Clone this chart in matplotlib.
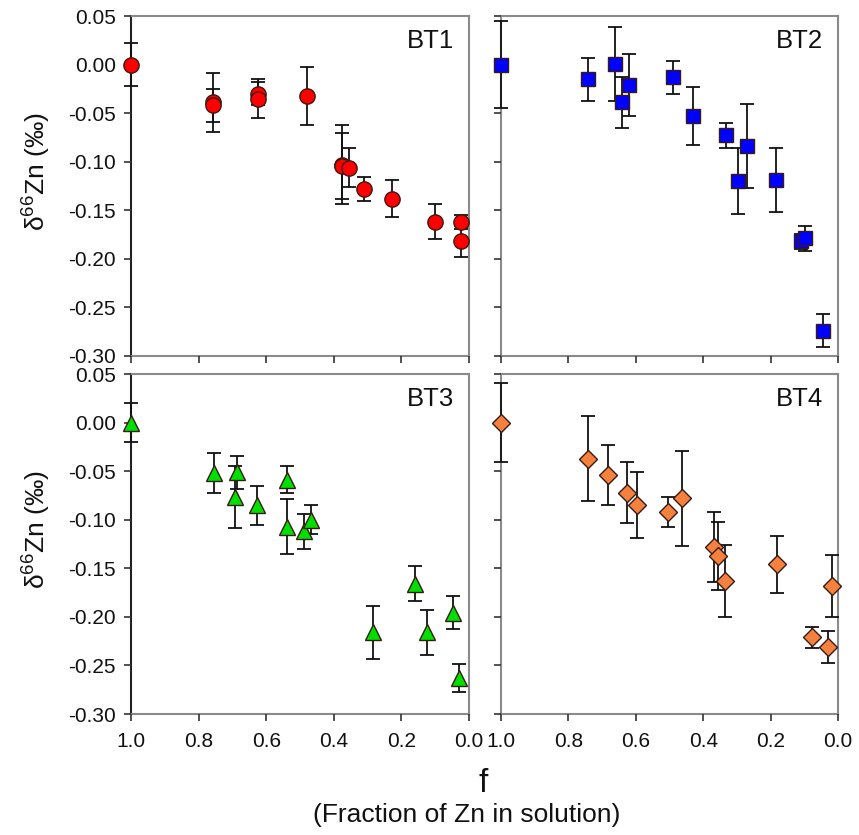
import matplotlib
matplotlib.use('Agg')
import matplotlib.pyplot as plt

plt.rcParams['font.family'] = ['Liberation Sans', 'DejaVu Sans']
plt.rcParams['mathtext.fontset'] = 'custom'
plt.rcParams['mathtext.rm'] = 'Liberation Sans'
plt.rcParams['mathtext.it'] = 'Liberation Sans:italic'

# ---- data -------------------------------------------------------------
bt1_f = [1.0, 0.756, 0.756, 0.623, 0.623, 0.478, 0.377, 0.375, 0.355, 0.311, 0.229, 0.101, 0.024, 0.024]
bt1_d = [0.000, -0.039, -0.042, -0.030, -0.035, -0.032, -0.103, -0.104, -0.106, -0.128, -0.138, -0.162, -0.162, -0.182]
bt1_e = [0.022, 0.030, 0.017, 0.012, 0.020, 0.030, 0.041, 0.034, 0.020, 0.012, 0.019, 0.018, 0.007, 0.016]

bt2_f = [1.0, 0.743, 0.662, 0.642, 0.619, 0.490, 0.431, 0.333, 0.297, 0.270, 0.184, 0.111, 0.098, 0.045]
bt2_d = [0.000, -0.015, 0.001, -0.039, -0.021, -0.013, -0.053, -0.073, -0.120, -0.084, -0.119, -0.182, -0.179, -0.274]
bt2_e = [0.045, 0.022, 0.038, 0.026, 0.032, 0.017, 0.030, 0.013, 0.034, 0.043, 0.033, 0.008, 0.013, 0.017]

bt3_f = [1.0, 0.754, 0.685, 0.692, 0.626, 0.539, 0.539, 0.488, 0.467, 0.283, 0.159, 0.125, 0.046, 0.030]
bt3_d = [0.000, -0.052, -0.051, -0.077, -0.085, -0.059, -0.107, -0.112, -0.100, -0.216, -0.166, -0.216, -0.196, -0.263]
bt3_e = [0.020, 0.021, 0.017, 0.032, 0.020, 0.014, 0.028, 0.018, 0.015, 0.027, 0.018, 0.023, 0.017, 0.014]

bt4_f = [1.0, 0.743, 0.682, 0.626, 0.595, 0.504, 0.462, 0.367, 0.355, 0.335, 0.180, 0.078, 0.030, 0.019]
bt4_d = [0.000, -0.037, -0.054, -0.072, -0.085, -0.092, -0.078, -0.128, -0.137, -0.163, -0.146, -0.221, -0.231, -0.168]
bt4_e = [0.041, 0.044, 0.031, 0.031, 0.034, 0.015, 0.049, 0.036, 0.035, 0.037, 0.029, 0.011, 0.016, 0.032]

panel_names = ['BT1', 'BT2', 'BT3', 'BT4']
x_ticks = [1.0, 0.8, 0.6, 0.4, 0.2, 0.0]
x_ticklabels = ['1.0', '0.8', '0.6', '0.4', '0.2', '0.0']
y_ticks = [0.05, 0.00, -0.05, -0.10, -0.15, -0.20, -0.25, -0.30]
y_ticklabels = ['0.05', '0.00', '-0.05', '-0.10', '-0.15', '-0.20', '-0.25', '-0.30']
ylabel_text = r'$\mathregular{\delta^{66}}$Zn (‰)'
xlabel_main = 'f'
xlabel_sub = '(Fraction of Zn in solution)'

series = [
    (bt1_f, bt1_d, bt1_e, 'o', '#ff0000', 11),
    (bt2_f, bt2_d, bt2_e, 's', '#0000ff', 9.5),
    (bt3_f, bt3_d, bt3_e, '^', '#00e000', 11),
    (bt4_f, bt4_d, bt4_e, 'D', '#f4823e', 9),
]

# ---- figure -----------------------------------------------------------
W, H = 859, 835
fig = plt.figure(figsize=(W / 100, H / 100), dpi=100)

def rect(x0, y0, x1, y1):
    return [x0 / W, 1 - y1 / H, (x1 - x0) / W, (y1 - y0) / H]

rects = [rect(131, 16, 469, 356), rect(501, 16, 838, 356),
         rect(131, 374, 469, 714), rect(501, 374, 838, 714)]

frame_col = '#8a8a8a'
for i, (r, (fx, dy, er, mk, col, ms)) in enumerate(zip(rects, series)):
    ax = fig.add_axes(r)
    ax.errorbar(fx, dy, yerr=er, fmt='none', ecolor='#111111', elinewidth=1.3,
                capsize=5, capthick=1.3, zorder=4, clip_on=False)
    ax.plot(fx, dy, linestyle='none', marker=mk, markersize=ms,
            markerfacecolor=col, markeredgecolor='#3a1a10', markeredgewidth=1.0,
            zorder=5, clip_on=False)
    ax.set_xlim(1.0, 0.0)
    ax.set_ylim(-0.30, 0.05)
    ax.set_xticks(x_ticks)
    ax.set_yticks(y_ticks)
    for s in ax.spines.values():
        s.set_color(frame_col)
        s.set_linewidth(1.5)
        s.set_zorder(1)
    if i % 2 == 0:
        ax.spines['left'].set_color('#222222')
        ax.set_yticklabels(y_ticklabels)
    else:
        ax.set_yticklabels([])
    if i >= 2:
        ax.set_xticklabels(x_ticklabels)
    else:
        ax.set_xticklabels([])
    ax.tick_params(axis='both', direction='out', length=5, width=1.2, color='#333333',
                   labelsize=15, labelcolor='#111111')
    ax.tick_params(axis='y', pad=6)
    ax.tick_params(axis='x', pad=8)
    ax.text(0.955, 0.962, panel_names[i], transform=ax.transAxes, ha='right', va='top',
            fontsize=18.5, color='#111111')

fig.text(37 / W, 1 - 172 / H, ylabel_text, rotation=90, ha='center', va='center',
         fontsize=19, color='#111111')
fig.text(37 / W, 1 - 530 / H, ylabel_text, rotation=90, ha='center', va='center',
         fontsize=19, color='#111111')
fig.text(483 / W, 1 - 783 / H, xlabel_main, ha='center', va='center', fontsize=24,
         color='#111111')
fig.text(467 / W, 1 - 815 / H, xlabel_sub, ha='center', va='center', fontsize=19,
         color='#111111')

fig.savefig('out.png', dpi=100, facecolor='white')
